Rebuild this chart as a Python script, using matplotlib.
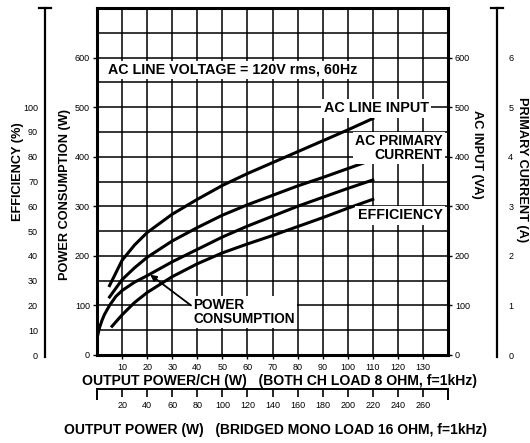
import matplotlib
matplotlib.use("Agg")
import matplotlib.pyplot as plt

plt.rcParams['font.family'] = ['Liberation Sans', 'DejaVu Sans']

# ---- data ----
ac_line_x = [5, 10, 15, 20, 30, 40, 50, 60, 70, 80, 90, 100, 110]
ac_line_va = [140, 191, 222, 247, 284, 314, 342, 366, 388, 410, 432, 454, 477]

primary_x = [5, 10, 15, 20, 30, 40, 50, 60, 70, 80, 90, 100, 110]
primary_cur = [117, 152, 176, 197, 230, 257, 282, 303, 322, 341, 358, 376, 394]  # x100 A

power_x = [0.3, 1, 2, 3, 5, 7.5, 10, 15, 20, 30, 40, 50, 60, 70, 80, 90, 100, 110]
power_w = [40, 55, 70, 82, 100, 118, 130, 147, 160, 188, 213, 238, 260, 280, 300, 318, 336, 353]

eff_x = [6, 10, 15, 20, 30, 40, 50, 60, 70, 80, 90, 100, 110]
eff_pct = [11.6, 16.2, 21.2, 25.2, 31.6, 36.8, 41.2, 44.8, 48.2, 51.8, 55.4, 59.2, 62.8]

x_ticks = [10, 20, 30, 40, 50, 60, 70, 80, 90, 100, 110, 120, 130]
y_ticks = [0, 100, 200, 300, 400, 500, 600]
eff_ticks = [0, 10, 20, 30, 40, 50, 60, 70, 80, 90, 100]
cur_ticks = [0, 1, 2, 3, 4, 5, 6]
mono_ticks = [20, 40, 60, 80, 100, 120, 140, 160, 180, 200, 220, 240, 260]

W, H = 530, 443
def fx(p): return p / W
def fy(p): return 1 - p / H

fig = plt.figure(figsize=(W / 100, H / 100), dpi=100)
fig.patch.set_facecolor('white')
renderer = fig.canvas.get_renderer()

def fit(t, target):
    """scale font so that the text spans `target` pixels"""
    bb = t.get_window_extent(renderer=renderer)
    t.set_fontsize(t.get_fontsize() * target / bb.width)
    return t

L, R, T, B = 97, 448, 8, 355
ax = fig.add_axes([fx(L), fy(B), (R - L) / W, (B - T) / H])
ax.set_xlim(0, 140)
ax.set_ylim(0, 700)
for xv in range(10, 140, 10):
    ax.axvline(xv, color='black', lw=1.1, zorder=1)
for yv in range(50, 700, 50):
    ax.axhline(yv, color='black', lw=1.1, zorder=1)
for s in ax.spines.values():
    s.set_linewidth(2.2)
ax.set_xticks(x_ticks)
ax.set_xticklabels([str(v) for v in x_ticks])
ax.set_yticks(y_ticks)
ax.set_yticklabels([str(v) for v in y_ticks])
ax.tick_params(axis='both', labelsize=6.5, length=3, width=1, pad=2,
               colors='black')
ax.tick_params(axis='y', right=True, labelright=True, left=True, labelleft=True)
ax.tick_params(axis='x', pad=3)

lw = 2.2
ax.plot(ac_line_x, ac_line_va, color='black', lw=lw, zorder=3)
ax.plot(primary_x, primary_cur, color='black', lw=lw, zorder=3)
ax.plot(power_x, power_w, color='black', lw=lw, zorder=3)
ax.plot(eff_x, [e * 5 for e in eff_pct], color='black', lw=lw, zorder=3)

tb = dict(facecolor='white', edgecolor='none', pad=1.5)
fs = 9
t = ax.text(4.5, 575, 'AC LINE VOLTAGE = 120V rms, 60Hz', fontsize=fs, fontweight='bold',
            va='center', ha='left', bbox=tb, zorder=4)
fit(t, 249)
t = ax.text(90.5, 498, 'AC LINE INPUT', fontsize=fs, fontweight='bold',
            va='center', ha='left', bbox=tb, zorder=4)
fit(t, 105)
t = ax.text(138, 418, 'AC PRIMARY\nCURRENT', fontsize=fs, fontweight='bold',
            va='center', ha='right', multialignment='right', linespacing=0.95,
            bbox=tb, zorder=4)
fit(t, 88)
t = ax.text(104, 282, 'EFFICIENCY', fontsize=fs, fontweight='bold',
            va='center', ha='left', bbox=tb, zorder=4)
fit(t, 85)
t = ax.text(38.5, 87, 'POWER\nCONSUMPTION', fontsize=fs, fontweight='bold',
            va='center', ha='left', linespacing=0.95, bbox=tb, zorder=4)
fit(t, 103)
ax.annotate('', xy=(21.2, 162), xytext=(37.5, 100),
            arrowprops=dict(arrowstyle='-|>', color='black', lw=1.3,
                            mutation_scale=9, shrinkA=0, shrinkB=0), zorder=4)

# efficiency axis (left)
eax = fig.add_axes([fx(45), fy(B + 2), 0.0001, (B + 2 - T) / H])
eax.set_ylim(-0.8, 140)
eax.patch.set_visible(False)
for k in ['right', 'top', 'bottom']:
    eax.spines[k].set_visible(False)
eax.spines['left'].set_linewidth(1.6)
eax.set_xticks([])
eax.set_yticks(eff_ticks)
eax.set_yticklabels([str(v) for v in eff_ticks])
eax.tick_params(axis='y', length=0, labelsize=6.5, pad=5)
fig.add_artist(plt.Line2D([fx(39), fx(51)], [fy(T), fy(T)], color='black', lw=1.6))

# primary current axis (right)
cax = fig.add_axes([fx(497), fy(B + 2), 0.0001, (B + 2 - T) / H])
cax.set_ylim(-0.04, 7)
cax.patch.set_visible(False)
for k in ['left', 'top', 'bottom']:
    cax.spines[k].set_visible(False)
cax.spines['right'].set_linewidth(1.6)
cax.set_xticks([])
cax.yaxis.tick_right()
cax.set_yticks(cur_ticks)
cax.set_yticklabels([str(v) for v in cur_ticks])
cax.tick_params(axis='y', length=0, labelsize=6.5, pad=8)
fig.add_artist(plt.Line2D([fx(491), fx(503)], [fy(T), fy(T)], color='black', lw=1.6))

# bridged mono axis (bottom)
max_ = fig.add_axes([fx(L), fy(389), (R - L) / W, 0.0001])
max_.set_xlim(0, 280)
max_.patch.set_visible(False)
for k in ['left', 'right', 'bottom']:
    max_.spines[k].set_visible(False)
max_.spines['top'].set_linewidth(1.4)
max_.set_yticks([])
max_.xaxis.tick_bottom()
max_.set_xticks(mono_ticks)
max_.set_xticklabels([str(v) for v in mono_ticks])
max_.set_xticks([0, 280], minor=True)
max_.tick_params(axis='x', which='major', length=6, width=1.2, labelsize=6.5, pad=3)
max_.tick_params(axis='x', which='minor', length=8, width=1.4)

# axis titles
lfs = 9.2
fig.text(fx(18), fy(172), 'EFFICIENCY (%)', rotation=90, fontsize=lfs,
         fontweight='bold', ha='center', va='center')
fig.text(fx(65), fy(194), 'POWER CONSUMPTION (W)', rotation=90, fontsize=lfs,
         fontweight='bold', ha='center', va='center')
fig.text(fx(477), fy(154), 'AC INPUT (VA)', rotation=-90, fontsize=lfs,
         fontweight='bold', ha='center', va='center')
fig.text(fx(522), fy(170), 'PRIMARY CURRENT (A)', rotation=-90, fontsize=lfs,
         fontweight='bold', ha='center', va='center')
t = fig.text(fx(279), fy(381), 'OUTPUT POWER/CH (W)   (BOTH CH LOAD 8 OHM, f=1kHz)',
             fontsize=9.5, fontweight='bold', ha='center', va='center')
fit(t, 394)
t = fig.text(fx(275), fy(430), 'OUTPUT POWER (W)   (BRIDGED MONO LOAD 16 OHM, f=1kHz)',
             fontsize=9.5, fontweight='bold', ha='center', va='center')
fit(t, 424)

fig.savefig('out.png', dpi=100, facecolor='white')
